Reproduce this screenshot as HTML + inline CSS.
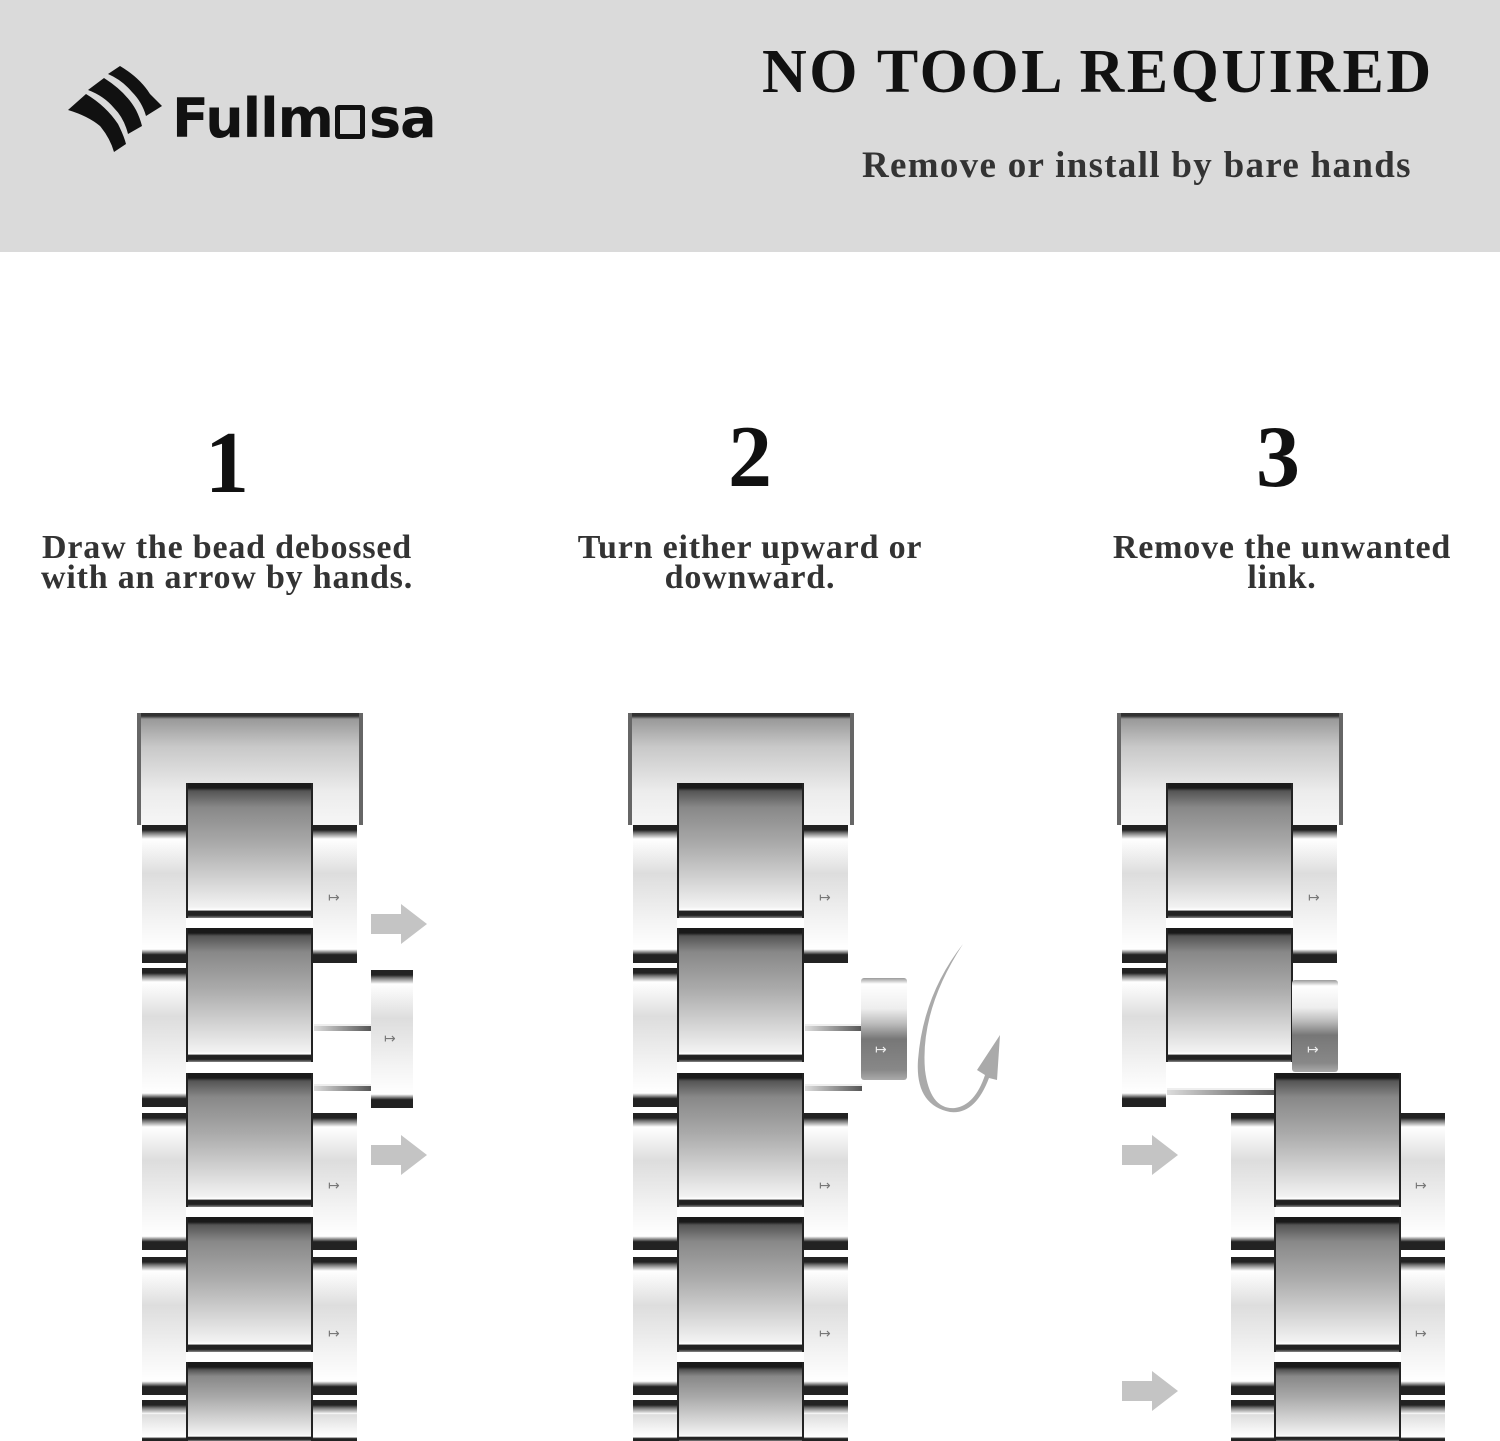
<!DOCTYPE html>
<html><head><meta charset="utf-8"><style>
*{margin:0;padding:0;box-sizing:border-box}
body{width:1500px;height:1441px;position:relative;background:#fff;overflow:hidden;font-family:"Liberation Serif",serif}
.a{position:absolute}
.hdr{left:0;top:0;width:1500px;height:252px;background:#dadada}
.t{font-weight:bold;color:#333;font-size:34px;line-height:30px;text-align:center;white-space:nowrap;letter-spacing:0.8px}
.n{font-weight:bold;color:#111;font-size:88px;line-height:88px;text-align:center}
.c{position:absolute;width:127px;border-left:2px solid #222;border-right:2px solid #222;background:linear-gradient(to bottom,#1a1a1a 0,#1a1a1a 5px,#555 8px,#888 18%,#aaa 45%,#d8d8d8 75%,#f2f2f2 92%,#fff 94%,#222 95%,#222 98%,#888 100%)}
.s{position:absolute;width:44px;background:linear-gradient(to bottom,#222 0,#222 5px,#777 8px,#fff 14px,#ddd 35%,#f4f4f4 70%,#fff 90%,#222 94%,#222 100%)}
.e{position:absolute;width:226px;height:112px;background:linear-gradient(to bottom,#333 0,#333 3px,#999 6px,#c8c8c8 30%,#ececec 70%,#f6f6f6 100%);border-left:4px solid #666;border-right:4px solid #666}
.g{position:absolute;font-family:"DejaVu Sans",sans-serif;font-size:14px;color:#777}
.p{position:absolute;height:7px;background:linear-gradient(to right,#ddd,#555);border-top:2px solid #eee}
</style></head><body>
<div class="a hdr"></div>
<svg class="a" style="left:66px;top:66px" width="100" height="88" viewBox="0 0 100 88">
<path d="M2 44 L20 28 Q40 40 52 58 Q58 70 60 78 L48 86 Q44 72 34 60 Q22 50 2 44Z" fill="#111"/>
<path d="M22 24 L38 12 Q60 26 70 44 Q74 52 76 60 L62 68 Q58 52 48 42 Q38 30 22 24Z" fill="#111"/>
<path d="M42 8 L54 0 Q74 12 84 28 L96 40 L80 50 Q76 36 66 26 Q56 14 42 8Z" fill="#111"/>
</svg>
<div class="a" style="left:172px;top:86px;font-family:'DejaVu Sans',sans-serif;font-weight:bold;font-size:54px;line-height:66px;color:#111;letter-spacing:-1px;white-space:nowrap">Fullm<span style="display:inline-block;width:30px;height:34px;border:5px solid #111;border-radius:4px;margin:0 4px 0 2px;vertical-align:-2px"></span>sa</div>
<div class="a" style="left:762px;top:37px;font-size:62px;line-height:70px;font-weight:bold;color:#111;letter-spacing:2.5px;white-space:nowrap">NO TOOL REQUIRED</div>
<div class="a" style="left:862px;top:146px;font-size:37px;line-height:40px;font-weight:bold;color:#333;letter-spacing:1.3px;white-space:nowrap">Remove or install by bare hands</div>

<div class="a n" style="left:127px;top:420px;width:200px">1</div>
<div class="a n" style="left:650px;top:414px;width:200px">2</div>
<div class="a n" style="left:1178px;top:414px;width:200px">3</div>
<div class="a t" style="left:0;top:533px;width:454px">Draw the bead debossed<br>with an arrow by hands.</div>
<div class="a t" style="left:520px;top:533px;width:460px">Turn either upward or<br>downward.</div>
<div class="a t" style="left:1060px;top:533px;width:444px">Remove the unwanted<br>link.</div>

<div class="e" style="left:137px;top:713px"></div>
<div class="s" style="left:142px;top:825px;height:138px"></div><div class="s" style="left:313px;top:825px;height:138px"></div>
<div class="s" style="left:142px;top:968px;height:139px"></div>
<div class="s" style="left:142px;top:1113px;height:137px"></div><div class="s" style="left:313px;top:1113px;height:137px"></div>
<div class="s" style="left:142px;top:1257px;height:138px"></div><div class="s" style="left:313px;top:1257px;height:138px"></div>
<div class="s" style="left:142px;top:1400px;height:41px"></div><div class="s" style="left:313px;top:1400px;height:41px"></div>
<div class="c" style="left:186px;top:783px;height:135px"></div>
<div class="c" style="left:186px;top:928px;height:134px"></div>
<div class="c" style="left:186px;top:1073px;height:134px"></div>
<div class="c" style="left:186px;top:1217px;height:135px"></div>
<div class="c" style="left:186px;top:1362px;height:79px"></div>
<div class="p" style="left:314px;top:1024px;width:57px"></div>
<div class="p" style="left:314px;top:1084px;width:57px"></div>
<div class="s" style="left:371px;top:970px;height:138px;width:42px"></div>
<div class="g" style="left:328px;top:890px">↦</div><div class="g" style="left:384px;top:1031px">↦</div>
<div class="g" style="left:328px;top:1178px">↦</div><div class="g" style="left:328px;top:1326px">↦</div>

<div class="e" style="left:628px;top:713px"></div>
<div class="s" style="left:633px;top:825px;height:138px"></div><div class="s" style="left:804px;top:825px;height:138px"></div>
<div class="s" style="left:633px;top:968px;height:139px"></div>
<div class="s" style="left:633px;top:1113px;height:137px"></div><div class="s" style="left:804px;top:1113px;height:137px"></div>
<div class="s" style="left:633px;top:1257px;height:138px"></div><div class="s" style="left:804px;top:1257px;height:138px"></div>
<div class="s" style="left:633px;top:1400px;height:41px"></div><div class="s" style="left:804px;top:1400px;height:41px"></div>
<div class="c" style="left:677px;top:783px;height:135px"></div>
<div class="c" style="left:677px;top:928px;height:134px"></div>
<div class="c" style="left:677px;top:1073px;height:134px"></div>
<div class="c" style="left:677px;top:1217px;height:135px"></div>
<div class="c" style="left:677px;top:1362px;height:79px"></div>
<div class="p" style="left:805px;top:1024px;width:57px"></div>
<div class="p" style="left:805px;top:1084px;width:57px"></div>
<div class="a" style="left:861px;top:978px;width:46px;height:102px;border-radius:3px;background:linear-gradient(to bottom,#999 0,#fff 6px,#eee 30%,#bbb 45%,#777 60%,#888 90%,#aaa 100%)"></div>
<div class="g" style="left:875px;top:1042px;color:#eee">↦</div>
<div class="g" style="left:819px;top:890px">↦</div>
<div class="g" style="left:819px;top:1178px">↦</div><div class="g" style="left:819px;top:1326px">↦</div>
<svg class="a" style="left:915px;top:940px" width="90" height="175" viewBox="0 0 90 175">
<path d="M48 4 Q5 70 10 130 Q15 170 40 168 Q60 165 70 135 L62 130 L85 95 L82 140 L74 138 Q60 175 35 172 Q0 165 3 120 Q8 55 48 4Z" fill="#aaa"/>
</svg>

<div class="e" style="left:1117px;top:713px"></div>
<div class="s" style="left:1122px;top:825px;height:138px"></div><div class="s" style="left:1293px;top:825px;height:138px"></div>
<div class="s" style="left:1122px;top:968px;height:139px"></div>
<div class="c" style="left:1166px;top:783px;height:135px"></div>
<div class="c" style="left:1166px;top:928px;height:134px"></div>
<div class="p" style="left:1167px;top:1088px;width:108px"></div>
<div class="a" style="left:1292px;top:980px;width:46px;height:92px;border-radius:3px;background:linear-gradient(to bottom,#999 0,#fff 6px,#eee 30%,#bbb 45%,#777 60%,#888 90%,#aaa 100%)"></div>
<div class="g" style="left:1307px;top:1042px;color:#eee">↦</div>
<div class="g" style="left:1308px;top:890px">↦</div>
<div class="s" style="left:1231px;top:1113px;height:137px"></div><div class="s" style="left:1401px;top:1113px;height:137px"></div>
<div class="s" style="left:1231px;top:1257px;height:138px"></div><div class="s" style="left:1401px;top:1257px;height:138px"></div>
<div class="s" style="left:1231px;top:1400px;height:41px"></div><div class="s" style="left:1401px;top:1400px;height:41px"></div>
<div class="c" style="left:1274px;top:1073px;height:134px"></div>
<div class="c" style="left:1274px;top:1217px;height:135px"></div>
<div class="c" style="left:1274px;top:1362px;height:79px"></div>
<div class="g" style="left:1415px;top:1178px">↦</div><div class="g" style="left:1415px;top:1326px">↦</div>

<svg class="a" style="left:0;top:0" width="1500" height="1441">
<g fill="#c4c4c4">
<path d="M371 914 L401 914 L401 904 L427 924 L401 944 L401 934 L371 934Z"/>
<path d="M371 1145 L401 1145 L401 1135 L427 1155 L401 1175 L401 1165 L371 1165Z"/>
<path d="M1122 1145 L1152 1145 L1152 1135 L1178 1155 L1152 1175 L1152 1165 L1122 1165Z"/>
<path d="M1122 1381 L1152 1381 L1152 1371 L1178 1391 L1152 1411 L1152 1401 L1122 1401Z"/>
</g></svg>
</body></html>
